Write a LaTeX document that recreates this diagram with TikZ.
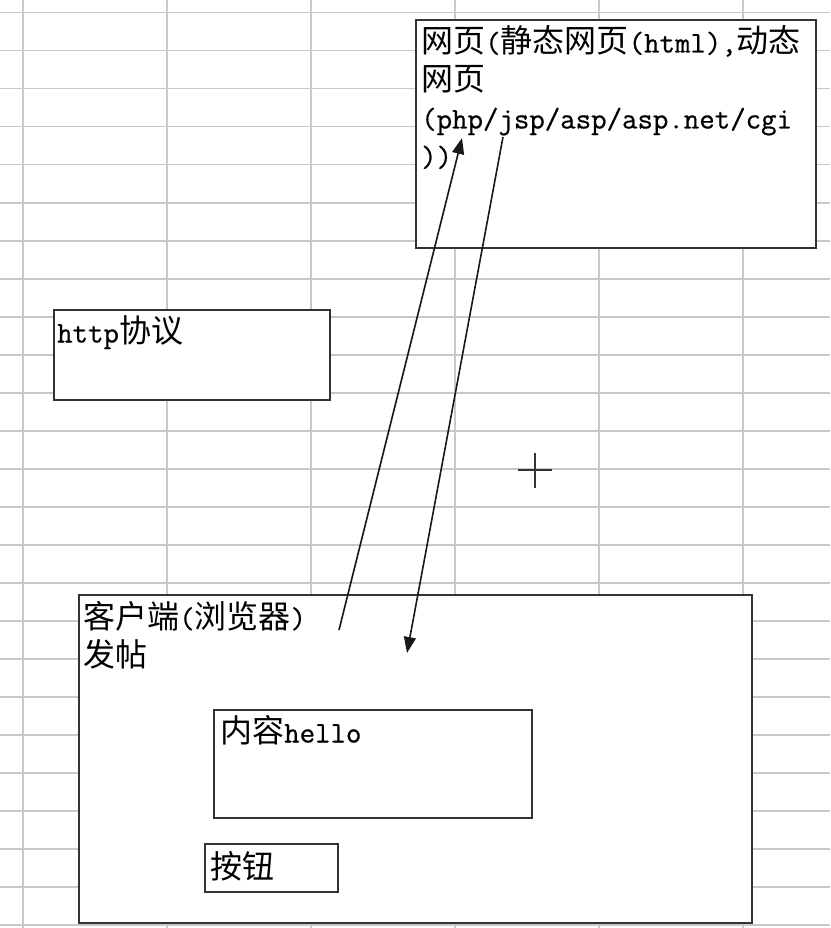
\documentclass[tikz,border=0pt]{standalone}
\usepackage{fontspec}
\usetikzlibrary{arrows.meta}
\newfontfamily\cjkfont{Noto Sans CJK SC}
\newfontfamily\monofont[FakeBold=0.6]{Latin Modern Mono}
\newcommand\cj[1]{{\cjkfont\fontsize{32}{38}\selectfont #1}}
\definecolor{gridc}{HTML}{C8C8C8}
\definecolor{boxc}{HTML}{333333}
\tikzset{
  gridline/.style={draw=gridc, line width=1.6pt},
  boxnode/.style={draw=boxc, fill=white, line width=2pt, rectangle, inner sep=0pt, anchor=north west},
  txt/.style={anchor=base west, inner sep=0pt, text=black, font=\monofont\fontsize{30}{38}\selectfont},
  arr/.style={draw=black!90, line width=1.6pt, -{Triangle[length=16pt,width=12pt]}},
  cursor/.style={draw=boxc, line width=2pt},
}
\begin{document}
\begin{tikzpicture}[x=1pt,y=-1pt]
\useasboundingbox (0,0) rectangle (830,928);
\fill[white] (0,0) rectangle (830,928);
% spreadsheet grid
\foreach \k in {0,...,24} \draw[gridline] (0,12.7+38*\k) -- (830,12.7+38*\k);
\foreach \x in {23,167,311,455,599,743} \draw[gridline] (\x,0) -- (\x,928);
% boxes
\node[boxnode, minimum width=400pt, minimum height=228pt] (web) at (415,19) {};
\node[boxnode, minimum width=276pt, minimum height=90pt] (http) at (53,309) {};
\node[boxnode, minimum width=673pt, minimum height=328pt] (client) at (78,594) {};
\node[boxnode, minimum width=318pt, minimum height=108pt] (content) at (213,709) {};
\node[boxnode, minimum width=133pt, minimum height=48pt] (button) at (204,843) {};
% texts
\node[txt] (w1) at (421,52.5) {\cj{网页}(\cj{静态网页}(html),\cj{动态}};
\node[txt] (w2) at (421,90.5) {\cj{网页}};
\node[txt] (w3) at (421,128.5) {(php/jsp/asp/asp.net/cgi};
\node[txt] (w4) at (421,166.5) {))};
\node[txt] (h1) at (57,342.5) {http\cj{协议}};
\node[txt] (c1) at (83,628) {\cj{客户端}(\cj{浏览器})};
\node[txt] (c2) at (83,666) {\cj{发帖}};
\node[txt] (t1) at (220,742.5) {\cj{内容}hello};
\node[txt] (b1) at (210,878) {\cj{按钮}};
% arrows
\coordinate (upS) at (339,630);
\coordinate (upE) at (462,138);
\coordinate (dnS) at (503,137);
\coordinate (dnE) at (407,653);
\draw[arr] (upS) -- (upE);
\draw[arr] (dnS) -- (dnE);
% cursor cross
\draw[cursor] (518,470) -- (552,470);
\draw[cursor] (535,453) -- (535,488);
\end{tikzpicture}
\end{document}
